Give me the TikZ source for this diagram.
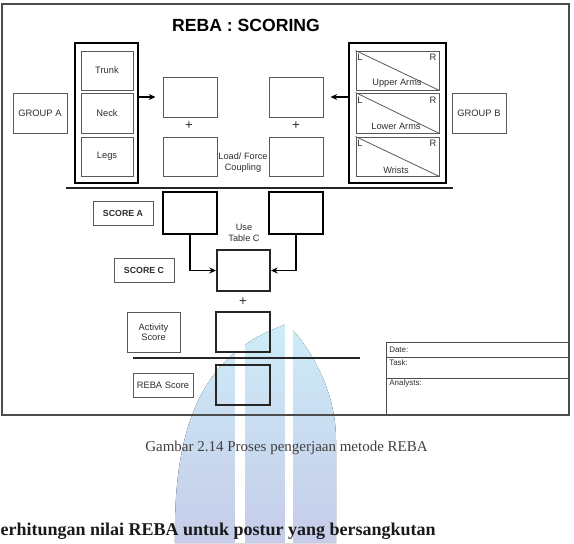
\documentclass[tikz,border=0pt]{standalone}
\usepackage{fontspec}
\setmainfont{Liberation Serif}
\newfontfamily\arialf{Liberation Sans}
\usetikzlibrary{arrows.meta}
\definecolor{wmtip}{RGB}{205,236,248}
\definecolor{wmtop}{RGB}{176,222,244}
\definecolor{wmbot}{RGB}{198,204,233}
\definecolor{ink}{RGB}{45,45,45}
\begin{document}
\begin{tikzpicture}[x=0.75pt,y=-0.75pt,
  sz/.style 2 args={minimum width={#1*0.75pt},minimum height={#2*0.75pt}},
  lbl/.style={draw=black!65,line width=0.75pt,inner sep=0pt,align=center,text=ink,
    font=\arialf\fontsize{7}{7.6}\selectfont},
  boldlbl/.style={lbl,font=\arialf\bfseries\fontsize{6.6}{7.6}\selectfont},
  emptybox/.style={draw=black!65,line width=0.75pt,inner sep=0pt},
  thickbox/.style={draw=black,line width=2.2pt,inner sep=0pt},
  scorebox/.style={draw=black,line width=1.9pt,inner sep=0pt},
  midbox/.style={draw=black!85,line width=1.5pt,inner sep=0pt},
  txt/.style={inner sep=0pt,align=center,text=ink,font=\arialf\fontsize{6.9}{8.25}\selectfont},
  small/.style={inner sep=0pt,text=ink,font=\arialf\fontsize{6}{7}\selectfont},
  corner/.style={inner sep=0pt,text=ink,font=\arialf\fontsize{7}{8}\selectfont},
  plussign/.style={inner sep=0pt,text=ink,font=\arialf\fontsize{10}{11}\selectfont},
  arrline/.style={line width=1.1pt,-{Stealth[length=5pt,width=4.5pt]}},
  sepline/.style={line width=1.5pt,draw=black!85},
  diag/.style={draw=black!65,line width=0.6pt}]
\useasboundingbox (0,0) rectangle (574,543);
% watermark
\fill[top color=wmtip,middle color=wmtop,bottom color=wmbot] (175,543) .. controls (173,420) and (205,352) .. (287,324)
  .. controls (310,347) and (336,390) .. (336,440) -- (336,543) -- cycle;
\fill[white] (235,315) rectangle (245,543);
\fill[white] (285,315) rectangle (293,543);
% frame
\draw[black!70,line width=0.8pt] (2,4) rectangle (569,415);
% title
\node[inner sep=0pt,text=black,font=\arialf\bfseries\fontsize{13.2}{15}\selectfont] (title) at (246,25) {REBA : SCORING};
% group A
\node[lbl,sz={54}{40}] (grpA) at (40,113) {GROUP A};
\node[thickbox,sz={63}{140}] (lgrp) at (106.5,113) {};
\node[lbl,sz={52}{39}] (trunk) at (107,70.5) {Trunk};
\node[lbl,sz={52}{40}] (neck) at (107,113) {Neck};
\node[lbl,sz={52}{39}] (legs) at (107,156.5) {Legs};
% centre boxes
\node[emptybox,sz={54}{40}] (la1) at (190,97) {};
\node[emptybox,sz={54}{39}] (la2) at (190,156.5) {};
\node[plussign] (p1) at (189,126) {+};
\node[emptybox,sz={54}{40}] (rb1) at (296,97) {};
\node[emptybox,sz={54}{39}] (rb2) at (296,156.5) {};
\node[plussign] (p2) at (296,126) {+};
\node[txt] (load) at (243,162.5) {Load/ Force\\Coupling};
% group B
\node[thickbox,sz={97}{140}] (rgrp) at (397.5,113) {};
\node[emptybox,sz={83}{39}] (ua) at (397.5,70.5) {};
\node[emptybox,sz={83}{40}] (lo) at (397.5,113) {};
\node[emptybox,sz={83}{39}] (wr) at (397.5,156.5) {};
\draw[diag] (ua.north west) -- (ua.south east);
\draw[diag] (lo.north west) -- (lo.south east);
\draw[diag] (wr.north west) -- (wr.south east);
\node[corner] (uaL) at (360,57) {L};
\node[corner] (uaR) at (433,57) {R};
\node[corner] (loL) at (360,100) {L};
\node[corner] (loR) at (433,100) {R};
\node[corner] (wrL) at (360,143) {L};
\node[corner] (wrR) at (433,143) {R};
\node[txt] (uaT) at (397,83) {Upper Arms};
\node[txt] (loT) at (396,126) {Lower Arms};
\node[txt] (wrT) at (396,170) {Wrists};
\node[lbl,sz={54}{40}] (grpB) at (479,113) {GROUP B};
% arrows top
\draw[arrline,shorten >=5.25pt] (lgrp.east |- la1.west) -- (la1.west);
\draw[arrline,shorten >=5.25pt] (rgrp.west |- rb1.east) -- (rb1.east);
% separator 1
\coordinate (s1a) at (66,188);
\coordinate (s1b) at (453,188);
\draw[sepline] (s1a) -- (s1b);
% score A / C
\node[boldlbl,sz={60}{24}] (scA) at (123,213) {SCORE A};
\node[scorebox,sz={54}{42}] (sa1) at (190,213) {};
\node[scorebox,sz={54}{42}] (sa2) at (296,213) {};
\node[txt] (use) at (244,232.5) {Use\\Table C};
\node[boldlbl,sz={60}{24}] (scC) at (144,270) {SCORE C};
\node[midbox,sz={53}{41}] (sc) at (243.5,270.5) {};
\draw[arrline] (sa1.south) |- (sc.west);
\draw[arrline] (sa2.south) |- (sc.east);
\node[plussign] (p3) at (243,302) {+};
\node[lbl,sz={53}{40},font=\arialf\fontsize{7}{7.5}\selectfont] (act) at (153.5,332) {Activity\\Score};
\node[midbox,sz={54}{40}] (actb) at (243,332) {};
% separator 2
\coordinate (s2a) at (133,358);
\coordinate (s2b) at (360,358);
\draw[sepline] (s2a) -- (s2b);
\node[lbl,sz={60}{24}] (rebaL) at (163,385) {REBA Score};
\node[midbox,sz={54}{40}] (rebab) at (243,385) {};
% info table
\coordinate (tA) at (386,415);
\coordinate (tB) at (386,342);
\coordinate (tC) at (569,342);
\coordinate (tD) at (386,357);
\coordinate (tE) at (569,357);
\coordinate (tF) at (386,378);
\coordinate (tG) at (569,378);
\draw[black!70,line width=0.75pt] (tA) -- (tB) -- (tC);
\draw[black!70,line width=0.75pt] (tD) -- (tE);
\draw[black!70,line width=0.75pt] (tF) -- (tG);
\node[small,anchor=west] (date) at (389,349.5) {Date:};
\node[small,anchor=west] (task) at (389,362.5) {Task:};
\node[small,anchor=west] (anal) at (389,383.5) {Analysts:};
% caption and heading
\node[inner sep=0pt,text=black!75,font=\fontsize{11.25}{13}\selectfont] (cap) at (286.5,448) {Gambar 2.14 Proses pengerjaan metode REBA};
\node[inner sep=0pt,anchor=east,text=black!90,font=\bfseries\fontsize{13.5}{16}\selectfont] (head) at (436,531) {erhitungan nilai REBA untuk postur yang bersangkutan};
\end{tikzpicture}
\end{document}
